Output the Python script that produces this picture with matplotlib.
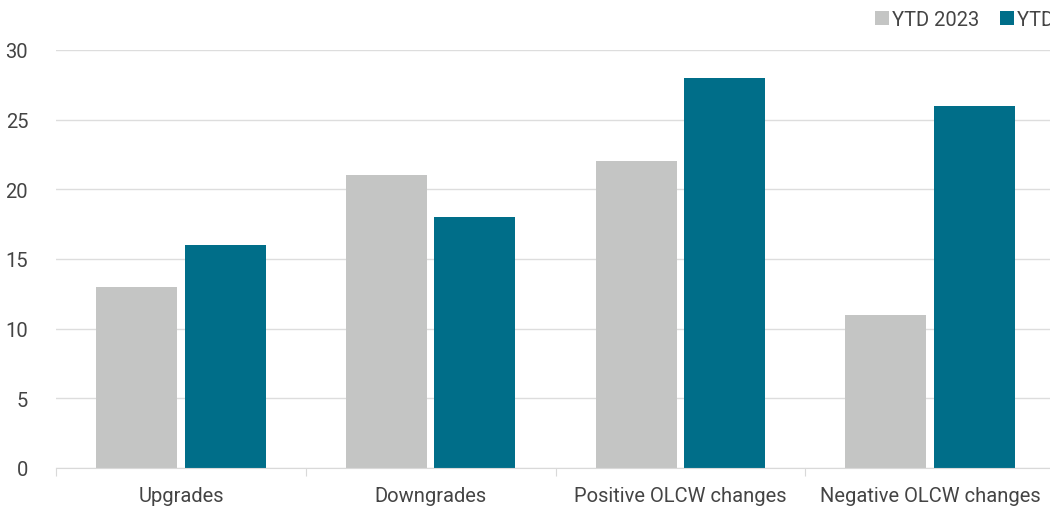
import matplotlib
matplotlib.use("Agg")
import matplotlib.pyplot as plt
import numpy as np
from matplotlib.patches import Patch

categories = ["Upgrades", "Downgrades", "Positive OLCW changes", "Negative OLCW changes"]
series_names = ["YTD 2023", "YTD 2024"]
ytd_2023 = [13, 21, 22, 11]
ytd_2024 = [16, 18, 28, 26]
y_ticks = [0, 5, 10, 15, 20, 25, 30]

grey = "#C4C5C4"
teal = "#006E89"
text_col = "#444444"
fs = 14.5

plt.rcParams['font.family'] = ['Roboto', 'DejaVu Sans']

fig = plt.figure(figsize=(10.5, 5.1), dpi=100)
ax = fig.add_axes([56/1050, 1-469/510, 999/1050, (469-51)/510])

x = np.arange(len(categories))
w = 0.324
off = 0.177
ax.bar(x - off, ytd_2023, width=w, color=grey, zorder=3)
ax.bar(x + off, ytd_2024, width=w, color=teal, zorder=3)

ax.set_xlim(-0.5, len(categories) - 0.5)
ax.set_ylim(0, 30)
ax.set_yticks(y_ticks)
ax.set_yticklabels([str(t) for t in y_ticks], fontsize=fs, color=text_col)
ax.yaxis.grid(True, color="#DDDDDD", linewidth=1, zorder=0)
ax.tick_params(axis='y', length=0, pad=20)

ax.set_xticks(np.arange(len(categories) + 1) - 0.5, minor=False)
ax.set_xticklabels([])
ax.tick_params(axis='x', which='major', length=6, color="#D9D9D9", direction='out')
ax.set_xticks(x, minor=True)
ax.set_xticklabels(categories, minor=True, fontsize=fs, color=text_col)
ax.tick_params(axis='x', which='minor', length=0, pad=13)

for s in ['top', 'right', 'left']:
    ax.spines[s].set_visible(False)
ax.spines['bottom'].set_color("#D9D9D9")
ax.spines['bottom'].set_zorder(4)

handles = [Patch(facecolor=grey, label=series_names[0]), Patch(facecolor=teal, label=series_names[1])]
fig.legend(handles=handles, loc='upper left', bbox_to_anchor=(857/1050, 1.014), ncol=2,
           frameon=False, fontsize=fs, labelcolor=text_col, handlelength=0.7, handleheight=0.7,
           handletextpad=0.15, columnspacing=1.0)

fig.savefig("out.png", dpi=100)
